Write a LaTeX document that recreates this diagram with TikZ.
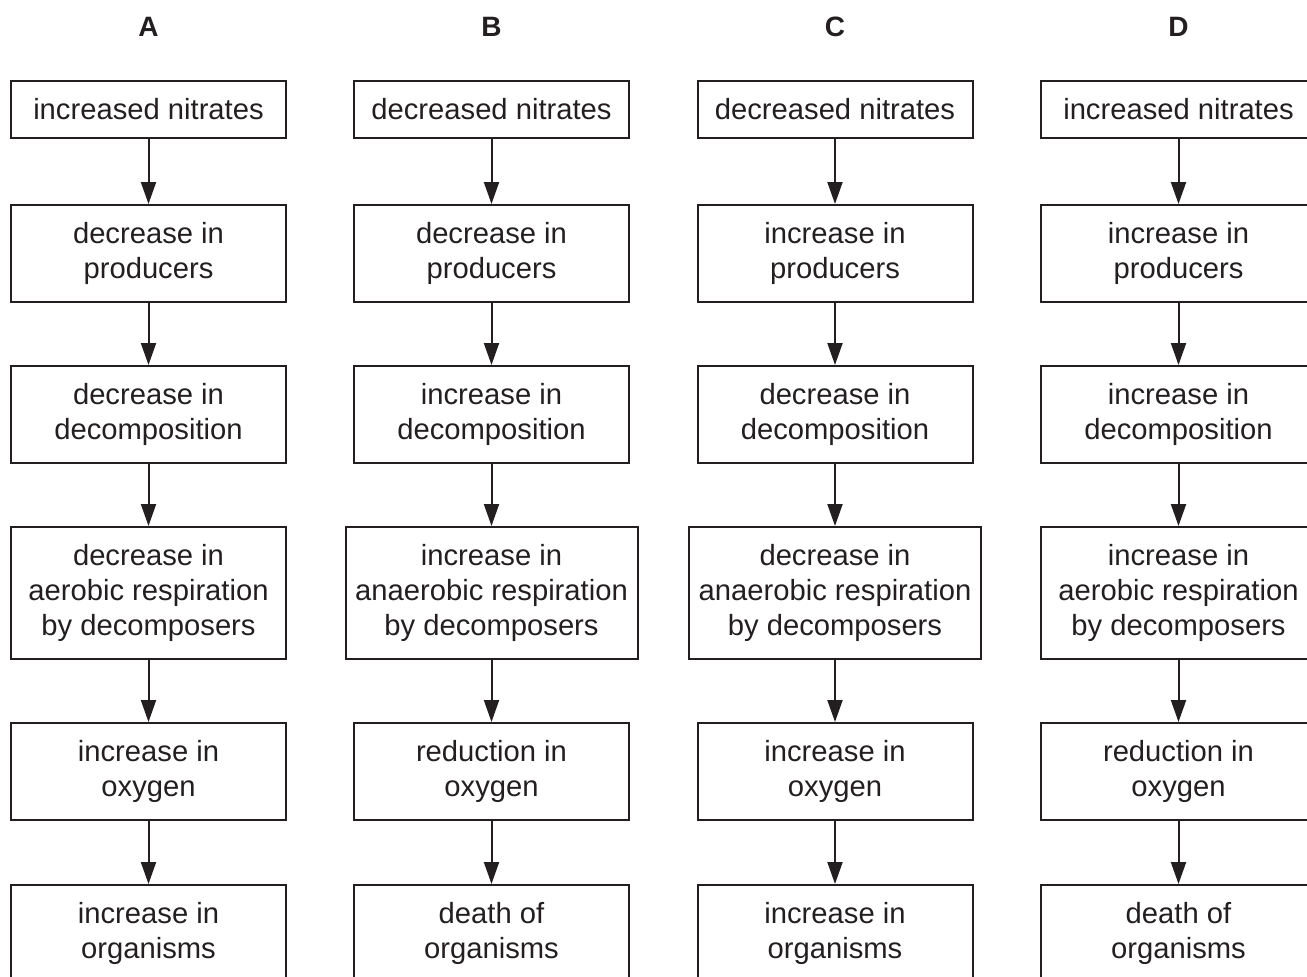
\documentclass[tikz,border=0pt]{standalone}
\usepackage{fontspec}
\setmainfont{Liberation Sans}
\usetikzlibrary{arrows.meta}
\definecolor{ink}{HTML}{231F20}

\begin{document}
\begin{tikzpicture}[x=0.5pt,y=-0.5pt]
\tikzstyle{stage}=[draw=ink,line width=1pt,text=ink,align=center,inner sep=0pt,minimum width=137.5pt,minimum height=48.5pt,font=\fontsize{14.6}{17.5}\selectfont]
\tikzstyle{first}=[minimum height=28.5pt]
\tikzstyle{wide}=[minimum width=146pt,minimum height=66pt]
\tikzstyle{link}=[draw=ink,line width=1pt,-{Triangle[length=11pt,width=7.5pt]}]
\tikzstyle{letter}=[text=ink,font=\fontsize{14}{17}\selectfont\bfseries]
\def \colA {148.5}
\def \colB {491.5}
\def \colC {835}
\def \colD {1178.5}
\clip (0,0) rectangle (1307,976);
% headings
\node[letter] (hA) at (\colA,27) {A};
\node[letter] (hB) at (\colB,27) {B};
\node[letter] (hC) at (\colC,27) {C};
\node[letter] (hD) at (\colD,27) {D};
% column A
\node[stage,first] (a1) at (\colA,109.5) {increased nitrates};
\node[stage] (a2) at (\colA,253.5) {decrease in\\producers};
\node[stage] (a3) at (\colA,414.5) {decrease in\\decomposition};
\node[stage,minimum height=66pt] (a4) at (\colA,593) {decrease in\\aerobic respiration\\by decomposers};
\node[stage] (a5) at (\colA,771.5) {increase in\\oxygen};
\node[stage] (a6) at (\colA,933.5) {increase in\\organisms};
% column B
\node[stage,first] (b1) at (\colB,109.5) {decreased nitrates};
\node[stage] (b2) at (\colB,253.5) {decrease in\\producers};
\node[stage] (b3) at (\colB,414.5) {increase in\\decomposition};
\node[stage,wide] (b4) at (\colB,593) {increase in\\anaerobic respiration\\by decomposers};
\node[stage] (b5) at (\colB,771.5) {reduction in\\oxygen};
\node[stage] (b6) at (\colB,933.5) {death of\\organisms};
% column C
\node[stage,first] (c1) at (\colC,109.5) {decreased nitrates};
\node[stage] (c2) at (\colC,253.5) {increase in\\producers};
\node[stage] (c3) at (\colC,414.5) {decrease in\\decomposition};
\node[stage,wide] (c4) at (\colC,593) {decrease in\\anaerobic respiration\\by decomposers};
\node[stage] (c5) at (\colC,771.5) {increase in\\oxygen};
\node[stage] (c6) at (\colC,933.5) {increase in\\organisms};
% column D
\node[stage,first] (d1) at (\colD,109.5) {increased nitrates};
\node[stage] (d2) at (\colD,253.5) {increase in\\producers};
\node[stage] (d3) at (\colD,414.5) {increase in\\decomposition};
\node[stage,minimum height=66pt] (d4) at (\colD,593) {increase in\\aerobic respiration\\by decomposers};
\node[stage] (d5) at (\colD,771.5) {reduction in\\oxygen};
\node[stage] (d6) at (\colD,933.5) {death of\\organisms};
% arrows
\path[link] (a1) -- (a2);
\path[link] (a2) -- (a3);
\path[link] (a3) -- (a4);
\path[link] (a4) -- (a5);
\path[link] (a5) -- (a6);
\path[link] (b1) -- (b2);
\path[link] (b2) -- (b3);
\path[link] (b3) -- (b4);
\path[link] (b4) -- (b5);
\path[link] (b5) -- (b6);
\path[link] (c1) -- (c2);
\path[link] (c2) -- (c3);
\path[link] (c3) -- (c4);
\path[link] (c4) -- (c5);
\path[link] (c5) -- (c6);
\path[link] (d1) -- (d2);
\path[link] (d2) -- (d3);
\path[link] (d3) -- (d4);
\path[link] (d4) -- (d5);
\path[link] (d5) -- (d6);
\end{tikzpicture}
\end{document}
